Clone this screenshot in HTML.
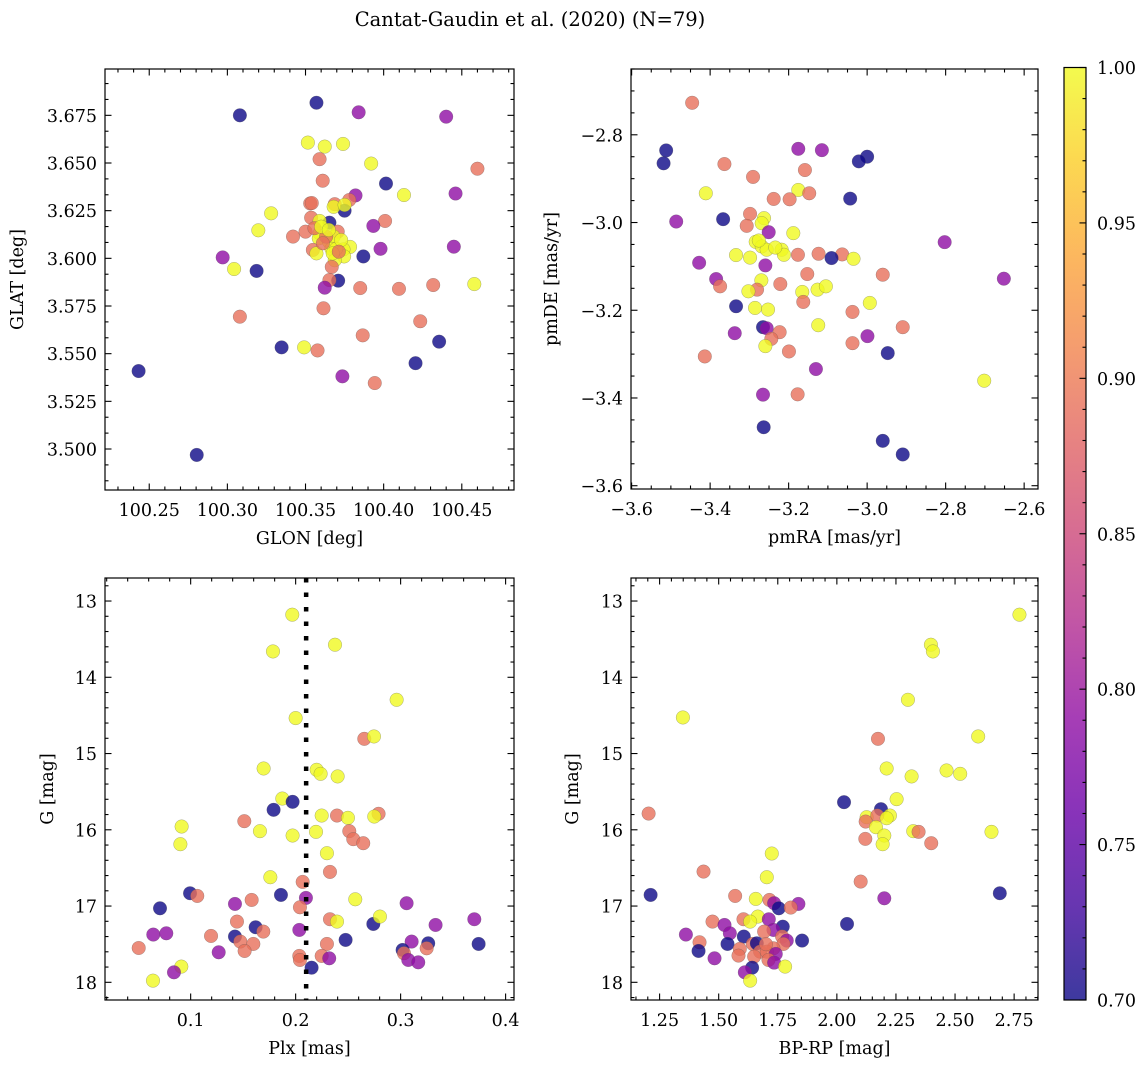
<!DOCTYPE html>
<html><head><meta charset="utf-8"><style>
body{margin:0;background:#fff}
svg{display:block;font-family:"DejaVu Serif","Liberation Serif",serif}
</style></head><body>
<svg id="fig" width="1148" height="1067" viewBox="0 0 1148 1067" xmlns="http://www.w3.org/2000/svg">
<defs>
<linearGradient id="plasma" x1="0" y1="1" x2="0" y2="0">
<stop offset="0" stop-color="#0d0887"/><stop offset="0.1" stop-color="#41049d"/><stop offset="0.2" stop-color="#6a00a8"/><stop offset="0.3" stop-color="#8f0da4"/><stop offset="0.4" stop-color="#b12a90"/><stop offset="0.5" stop-color="#cc4778"/><stop offset="0.6" stop-color="#e16462"/><stop offset="0.7" stop-color="#f2844b"/><stop offset="0.8" stop-color="#fca636"/><stop offset="0.9" stop-color="#fcce25"/><stop offset="1" stop-color="#f0f921"/>
</linearGradient>
</defs>
<text x="530" y="26" font-size="19.5" text-anchor="middle">Cantat-Gaudin et al. (2020) (N=79)</text>
<g id="root"></g>
</svg>
<script>
// ---- data ----
const B=0.70,M=0.79,O=0.89,Y=1.0;
const glon=[100.357,100.308,100.384,100.440,100.3515,100.3623,100.374,100.359,100.392,100.460,100.361,100.4015,100.413,100.446,100.382,100.378,100.353,100.354,100.3687,100.375,100.368,100.375,100.328,100.4009,100.3536,100.3653,100.359,100.3934,100.3198,100.342,100.350,100.3706,100.359,100.3585,100.365,100.368,100.3785,100.3743,100.3547,100.357,100.3666,100.3747,100.398,100.4449,100.297,100.387,100.3687,100.3668,100.3043,100.3187,100.3709,100.3653,100.3623,100.385,100.4098,100.4317,100.458,100.3615,100.308,100.4234,100.3866,100.4355,100.3347,100.3491,100.3577,100.2432,100.4204,100.3736,100.3943,100.2804,100.3696,100.3632,100.3557,100.3728,100.3674,100.3611,100.36,100.3649,100.3713];
const glat=[3.6816,3.675,3.6766,3.6743,3.6607,3.6586,3.660,3.652,3.6497,3.647,3.6407,3.6392,3.6332,3.634,3.633,3.6306,3.6288,3.629,3.6284,3.625,3.627,3.628,3.6236,3.6196,3.6213,3.6187,3.6196,3.617,3.6147,3.6114,3.614,3.614,3.6131,3.6105,3.6087,3.6114,3.606,3.6047,3.6044,3.6026,3.605,3.601,3.605,3.6061,3.6005,3.601,3.599,3.5955,3.5944,3.5934,3.5883,3.5886,3.5846,3.5844,3.584,3.586,3.5865,3.5738,3.5694,3.567,3.5596,3.5563,3.5533,3.5533,3.5517,3.5409,3.545,3.5381,3.5346,3.4969,3.605,3.6114,3.6158,3.6096,3.6026,3.6079,3.6166,3.6149,3.6035];
const prob1=[B,B,M,M,Y,Y,Y,O,Y,O,O,B,Y,M,M,O,O,O,O,B,Y,Y,Y,O,O,B,Y,M,Y,O,O,O,Y,Y,Y,Y,Y,Y,O,Y,Y,Y,M,M,M,B,Y,O,Y,B,B,O,M,O,O,O,Y,O,O,O,O,B,B,Y,O,B,B,M,O,B,Y,O,O,Y,Y,O,Y,Y,O];

const pmra=[-3.4458,-3.512,-3.5186,-3.1754,-3.1153,-3.0,-3.0212,-3.3636,-3.1585,-3.2907,-3.411,-3.1754,-3.1475,-3.2381,-3.1975,-3.0432,-3.2983,-3.2627,-3.2686,-3.3068,-3.3669,-3.4864,-3.2508,-3.1881,-3.2839,-3.2686,-3.256,-3.2178,-3.212,-3.334,-3.2983,-3.1763,-3.1237,-3.0636,-3.0907,-3.0347,-3.2593,-3.428,-2.8025,-3.1525,-2.9602,-3.3847,-3.3746,-3.2695,-3.2212,-3.2805,-3.3025,-3.1653,-3.1263,-3.1051,-2.6517,-3.1627,-2.9932,-3.3339,-3.2856,-3.2525,-3.0373,-3.1246,-2.9093,-3.2653,-3.2559,-3.2229,-3.2441,-3.3373,-2.9992,-3.0373,-3.2593,-3.1992,-2.9475,-3.4136,-3.1305,-2.7017,-3.2653,-3.1771,-3.2636,-2.9602,-2.9093,-3.276,-3.234];
const pmde=[-2.727,-2.8356,-2.865,-2.832,-2.835,-2.85,-2.8606,-2.8667,-2.8803,-2.896,-2.9333,-2.9258,-2.9333,-2.9462,-2.947,-2.9455,-2.9803,-2.99,-3.0015,-3.0076,-2.9924,-2.9977,-3.022,-3.0242,-3.044,-3.0545,-3.062,-3.062,-3.0735,-3.0742,-3.08,-3.0735,-3.0712,-3.0727,-3.081,-3.0826,-3.0977,-3.0917,-3.0447,-3.1174,-3.119,-3.1288,-3.1455,-3.1318,-3.1402,-3.153,-3.1568,-3.1583,-3.153,-3.1455,-3.128,-3.181,-3.1833,-3.1909,-3.1947,-3.1985,-3.2038,-3.2341,-3.2386,-3.2386,-3.241,-3.25,-3.2652,-3.2523,-3.259,-3.275,-3.2818,-3.294,-3.2977,-3.3053,-3.334,-3.3606,-3.3924,-3.3917,-3.4667,-3.4977,-3.5288,-3.041,-3.057];
const prob2=[O,B,B,M,M,B,B,O,O,O,Y,Y,O,O,O,B,O,Y,Y,O,B,M,M,Y,Y,Y,Y,Y,Y,Y,Y,O,O,O,B,Y,M,M,M,O,O,M,O,Y,O,O,Y,Y,Y,Y,M,O,Y,B,Y,Y,O,Y,O,B,M,O,O,M,M,O,Y,O,B,O,M,Y,M,O,B,B,B,Y,Y];

const plx=[0.1968,0.2375,0.1784,0.2962,0.2,0.2654,0.2746,0.1695,0.22,0.2238,0.24,0.1873,0.1971,0.179,0.2248,0.2394,0.2498,0.279,0.2749,0.1511,0.0914,0.166,0.1971,0.2194,0.2511,0.2549,0.2644,0.0902,0.2298,0.2327,0.1759,0.2067,0.0994,0.1063,0.186,0.2098,0.1581,0.1422,0.3057,0.2568,0.0708,0.2041,0.2327,0.2394,0.274,0.2803,0.3333,0.3702,0.1441,0.1619,0.1692,0.2035,0.0644,0.0768,0.1194,0.1422,0.1473,0.1597,0.2476,0.2298,0.3105,0.3263,0.3743,0.0505,0.1267,0.1514,0.3019,0.3032,0.3248,0.2035,0.2041,0.2248,0.232,0.3073,0.3168,0.2152,0.0911,0.0841,0.0641];
const gmag3=[13.179,13.573,13.661,14.295,14.535,14.807,14.776,15.196,15.213,15.266,15.30,15.59,15.633,15.738,15.813,15.813,15.843,15.79,15.826,15.887,15.957,16.018,16.075,16.027,16.018,16.123,16.176,16.189,16.307,16.552,16.622,16.683,16.832,16.867,16.854,16.893,16.92,16.972,16.963,16.911,17.029,17.016,17.173,17.204,17.235,17.138,17.248,17.173,17.204,17.278,17.335,17.313,17.374,17.357,17.392,17.40,17.466,17.497,17.444,17.497,17.466,17.488,17.497,17.55,17.606,17.589,17.576,17.619,17.554,17.654,17.707,17.654,17.685,17.707,17.738,17.808,17.794,17.869,17.978];
const prob3=[Y,Y,Y,Y,Y,O,Y,Y,Y,Y,Y,Y,B,B,Y,O,Y,O,Y,O,Y,Y,Y,Y,O,O,O,Y,Y,O,Y,O,B,O,B,M,O,M,M,Y,B,O,O,Y,B,Y,M,M,O,B,O,M,M,M,O,B,O,O,B,O,M,B,B,O,M,O,B,O,O,O,O,O,M,M,M,B,Y,M,Y];
const plxRef=[0.21];

const bprp=[2.7725,2.3979,2.4063,2.3007,1.3486,2.5979,2.174,2.2106,2.4641,2.5218,2.3162,2.2528,2.0303,2.1866,1.2035,2.2246,2.126,2.1711,2.2106,2.1218,2.1655,2.3232,2.3458,2.2007,2.1204,2.1937,2.3993,2.6542,1.7246,1.4359,1.7035,2.1007,1.212,2.6894,1.5697,1.657,2.2007,1.7148,1.7345,1.7542,1.8373,1.8049,1.6655,1.6049,1.6331,1.712,1.4739,1.5246,2.043,1.7711,1.7317,1.6923,1.5472,1.3613,1.6063,1.7683,1.788,1.8528,1.419,1.5373,1.6444,1.6613,1.7739,1.7317,1.5894,1.4148,1.6754,1.7035,1.5838,1.7415,1.65,1.7106,1.4824,1.7345,1.781,1.6415,1.6106,1.6331,1.70];
const gmag4=[13.179,13.573,13.661,14.295,14.527,14.776,14.807,15.196,15.222,15.266,15.30,15.598,15.638,15.73,15.787,15.813,15.835,15.813,15.848,15.892,15.966,16.018,16.027,16.075,16.119,16.189,16.176,16.027,16.311,16.548,16.622,16.679,16.854,16.832,16.867,16.906,16.898,16.92,16.963,17.029,16.972,17.02,17.138,17.173,17.204,17.173,17.204,17.248,17.235,17.27,17.313,17.335,17.357,17.374,17.40,17.40,17.453,17.453,17.475,17.497,17.497,17.488,17.497,17.554,17.563,17.589,17.598,17.598,17.65,17.628,17.663,17.707,17.685,17.742,17.794,17.808,17.869,17.978,17.50];
const prob4=[Y,Y,Y,Y,Y,Y,O,Y,Y,Y,Y,Y,B,B,O,Y,Y,O,Y,O,Y,Y,O,Y,O,Y,O,Y,Y,O,Y,O,B,B,O,Y,M,O,M,B,M,O,Y,O,Y,M,O,M,B,B,M,O,M,M,B,O,M,B,O,B,O,B,O,O,O,B,O,O,O,M,O,O,M,M,Y,B,M,Y,O];

const cbTicks=[0.70,0.75,0.80,0.85,0.90,0.95,1.00];

// ---- helpers ----
const NS='http://www.w3.org/2000/svg';
const root=document.getElementById('root');
const FS=17.5;
function mk(tag,attrs,parent){const e=document.createElementNS(NS,tag);for(const k in attrs)e.setAttribute(k,attrs[k]);(parent||root).appendChild(e);return e;}
const stops=[[13,8,135],[65,4,157],[106,0,168],[143,13,164],[177,42,144],[204,71,120],[225,100,98],[242,132,75],[252,166,54],[252,206,37],[240,249,33]];
function cmap(p){let t=(p-0.7)/0.3;t=Math.max(0,Math.min(1,t))*10;const i=Math.min(9,Math.floor(t)),f=t-i;const a=stops[i],b=stops[i+1];return 'rgb('+[0,1,2].map(k=>Math.round(a[k]+(b[k]-a[k])*f)).join(',')+')';}
function fmt(v,d){return (v<0?'\u2212':'')+Math.abs(v).toFixed(d);}

function panel(cfg){
  const {name,L,R,T,Bt,x0,x1,y0,y1,xt,xd,xminor,yt,yd,yminor,xlabel,ylabel,ylabX,xs,ys,ps}=cfg;
  const g=mk('g',{});
  
  
  const sx=v=>L+(v-x0)/(x1-x0)*(R-L);
  const sy=v=>T+(v-y0)/(y1-y0)*(Bt-T);
  const inX=v=>v>=Math.min(x0,x1)-1e-9&&v<=Math.max(x0,x1)+1e-9;
  const inY=v=>v>=Math.min(y0,y1)-1e-9&&v<=Math.max(y0,y1)+1e-9;
  const pg=mk('g',{},g);
  
  
  for(let i=0;i<xs.length;i++){
    const c=mk('circle',{cx:sx(xs[i]),cy:sy(ys[i]),r:6.8,fill:cmap(ps[i]),'fill-opacity':0.8,stroke:'#555','stroke-width':0.4,'stroke-opacity':0.6},pg);
    
    
  }
  if(cfg.vline){
    for(const v of cfg.vline){
      const l=mk('line',{x1:sx(v),x2:sx(v),y1:T,y2:Bt,stroke:'#000','stroke-width':4.5,'stroke-dasharray':'4.5 10'},g);
      
      
    }
  }
  const tg=mk('g',{stroke:'#000','stroke-width':1.1},g);
  
  
  const lo=Math.min(x0,x1),hi=Math.max(x0,x1);
  for(let v=Math.ceil(lo/xminor-1e-6)*xminor;v<=hi+1e-9;v+=xminor){
    const X=sx(v);const maj=xt.some(t=>Math.abs(t-v)<xminor/10);const len=maj?6.5:3.5;
    mk('line',{x1:X,x2:X,y1:Bt,y2:Bt-len},tg);mk('line',{x1:X,x2:X,y1:T,y2:T+len},tg);
  }
  const ylo=Math.min(y0,y1),yhi=Math.max(y0,y1);
  for(let v=Math.ceil(ylo/yminor-1e-6)*yminor;v<=yhi+1e-9;v+=yminor){
    const Yp=sy(v);const maj=yt.some(t=>Math.abs(t-v)<yminor/10);const len=maj?6.5:3.5;
    mk('line',{x1:L,x2:L+len,y1:Yp,y2:Yp},tg);mk('line',{x1:R,x2:R-len,y1:Yp,y2:Yp},tg);
  }
  const fr=mk('rect',{x:L,y:T,width:R-L,height:Bt-T,fill:'none',stroke:'#000','stroke-width':1.2},g);
  
  
  const xg=mk('g',{'font-size':FS,'text-anchor':'middle'},g);
  
  
  xt.forEach(v=>{if(!inX(v))return;const t=mk('text',{x:sx(v),y:Bt+26},xg);t.textContent=fmt(v,xd);});
  const yg=mk('g',{'font-size':FS,'text-anchor':'end'},g);
  
  
  yt.forEach(v=>{if(!inY(v))return;const t=mk('text',{x:L-8,y:sy(v)+6.5},yg);t.textContent=fmt(v,yd);});
  const xl=mk('text',{x:(L+R)/2,y:Bt+54,'font-size':FS,'text-anchor':'middle'},g);
  
  
  xl.textContent=xlabel;
  const yl=mk('text',{x:ylabX,y:(T+Bt)/2,'font-size':FS,'text-anchor':'middle',transform:'rotate(-90 '+ylabX+' '+(T+Bt)/2+')'},g);
  
  
  yl.textContent=ylabel;
}

panel({name:'sky-position-panel',L:105,R:514,T:69,Bt:490,x0:100.2217,x1:100.4834,y0:3.6993,y1:3.4785,
  xt:[100.25,100.30,100.35,100.40,100.45],xd:2,xminor:0.01,yt:[3.5,3.525,3.55,3.575,3.6,3.625,3.65,3.675],yd:3,yminor:0.025/3,
  xlabel:'GLON [deg]',ylabel:'GLAT [deg]',ylabX:23,xs:glon,ys:glat,ps:prob1});
panel({name:'proper-motion-panel',L:631,R:1038,T:69,Bt:489,x0:-3.6016,x1:-2.5647,y0:-2.65,y1:-3.6075,
  xt:[-3.6,-3.4,-3.2,-3.0,-2.8,-2.6],xd:1,xminor:0.05,yt:[-2.8,-3.0,-3.2,-3.4,-3.6],yd:1,yminor:0.05,
  xlabel:'pmRA [mas/yr]',ylabel:'pmDE [mas/yr]',ylabX:557,xs:pmra,ys:pmde,ps:prob2});
panel({name:'parallax-magnitude-panel',L:105,R:514,T:578,Bt:1000,x0:0.0184,x1:0.408,y0:12.698,y1:18.232,
  xt:[0.1,0.2,0.3,0.4],xd:1,xminor:0.02,yt:[13,14,15,16,17,18],yd:0,yminor:0.2,
  xlabel:'Plx [mas]',ylabel:'G [mag]',ylabX:53,xs:plx,ys:gmag3,ps:prob3,vline:plxRef});
panel({name:'color-magnitude-panel',L:631,R:1038,T:578,Bt:1000,x0:1.129,x1:2.851,y0:12.698,y1:18.232,
  xt:[1.25,1.5,1.75,2.0,2.25,2.5,2.75],xd:2,xminor:0.05,yt:[13,14,15,16,17,18],yd:0,yminor:0.2,
  xlabel:'BP-RP [mag]',ylabel:'G [mag]',ylabX:578,xs:bprp,ys:gmag4,ps:prob4});

(function(){
  const L=1064,R=1086,T=67.5,Bt=1000;
  const cg=mk('g',{});
  
  
  mk('rect',{x:L,y:T,width:R-L,height:Bt-T,fill:'url(#plasma)','fill-opacity':0.8},cg);
  mk('rect',{x:L,y:T,width:R-L,height:Bt-T,fill:'none',stroke:'#000','stroke-width':1.2},cg);
  const sy=v=>Bt-(v-0.7)/0.3*(Bt-T);
  for(let k=70;k<=100;k++){const v=k/100;const maj=k%5===0;const Y=sy(v);
    mk('line',{x1:R,x2:R-(maj?6.5:3.5),y1:Y,y2:Y,stroke:'#000','stroke-width':1.1},cg);}
  cbTicks.forEach(v=>{const t=mk('text',{x:R+11,y:sy(v)+6.5,'font-size':FS},cg);t.textContent=v.toFixed(2);});
})();
</script>
</body></html>
